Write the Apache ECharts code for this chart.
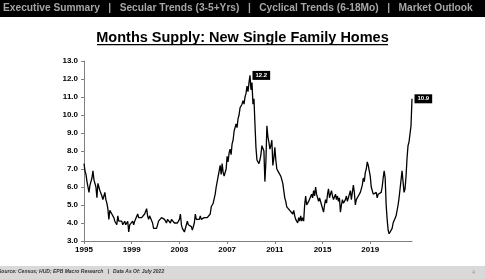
<!DOCTYPE html>
<html>
<head>
<meta charset="utf-8">
<script src="https://cdn.jsdelivr.net/npm/echarts@6/dist/echarts.min.js"></script>
<style>
html,body{margin:0;padding:0;background:#fff;}
#c{width:485px;height:279px;}
</style>
</head>
<body>
<div id="c"></div>
<script>
// Monthly months' supply, Jan 1995 .. Jul 2022
var startYear = 1995;
var values = [
  7.3, 6.9, 6.7, 6.3, 6.0, 5.7, 6.1, 6.3, 6.5, 6.9, 6.4, 6.3, // 1995
  6.0, 5.4, 6.2, 6.0, 5.8, 5.9, 5.5, 5.3, 5.5, 5.7, 5.3, 5.1, // 1996
  4.8, 4.2, 4.7, 4.6, 4.5, 4.4, 4.3, 4.1, 4.0, 3.9, 4.4, 4.1, // 1997
  4.0, 4.2, 4.1, 3.9, 4.0, 4.1, 3.9, 4.0, 4.1, 3.5, 3.9, 4.0, // 1998
  4.0, 4.1, 3.9, 4.1, 4.0, 4.0, 4.5, 4.3, 4.3, 4.4, 4.3, 4.3, // 1999
  4.3, 4.5, 4.4, 4.8, 4.4, 4.2, 4.4, 4.3, 4.3, 4.0, 3.7, 3.8, // 2000
  3.8, 3.7, 3.9, 4.1, 4.0, 4.2, 4.3, 4.4, 4.3, 4.2, 4.1, 4.0, // 2001
  4.2, 4.3, 4.1, 4.0, 4.2, 4.1, 4.2, 4.0, 4.1, 4.0, 4.0, 4.1, // 2002
  4.2, 4.5, 3.9, 3.7, 3.6, 3.5, 3.5, 3.6, 4.1, 3.9, 3.8, 3.9, // 2003
  3.8, 3.6, 3.7, 4.0, 4.5, 4.2, 4.1, 4.3, 4.2, 4.4, 4.2, 4.3, // 2004
  4.2, 4.3, 4.2, 4.4, 4.3, 4.3, 4.2, 4.5, 4.9, 4.8, 5.1, 5.2, // 2005
  5.6, 6.0, 6.3, 6.2, 6.4, 7.2, 6.7, 7.3, 6.8, 6.6, 6.5, 7.0, // 2006
  7.7, 7.4, 7.9, 8.1, 7.8, 8.4, 8.6, 9.1, 9.0, 9.5, 9.3, 9.8, // 2007
  10.0, 10.4, 10.3, 10.6, 10.8, 10.6, 11.0, 11.2, 11.6, 11.3, 11.8, 12.2, // 2008
  11.4, 11.8, 10.6, 10.9, 9.5, 8.2, 7.5, 7.6, 7.3, 7.5, 7.8, 8.3, // 2009
  8.4, 8.0, 6.3, 7.4, 9.4, 8.8, 8.5, 8.1, 8.3, 8.6, 7.2, 7.6, // 2010
  8.2, 7.5, 7.0, 6.9, 6.8, 6.8, 6.6, 6.7, 6.2, 5.8, 5.4, 5.2, // 2011
  4.9, 4.8, 4.8, 4.7, 4.6, 4.6, 4.5, 4.7, 4.4, 4.2, 4.1, 4.0, // 2012
  4.3, 4.1, 4.4, 4.1, 4.3, 4.1, 5.0, 5.5, 5.0, 5.1, 5.2, 5.1, // 2013
  5.3, 5.6, 5.4, 5.8, 5.5, 6.0, 5.6, 5.5, 5.2, 5.4, 5.3, 5.0, // 2014
  5.1, 4.6, 5.0, 5.3, 5.1, 5.6, 5.9, 5.4, 5.6, 5.8, 5.5, 5.3, // 2015
  5.4, 5.6, 5.3, 5.5, 5.2, 5.4, 4.6, 5.0, 5.3, 5.1, 5.2, 5.3, // 2016
  5.5, 5.2, 5.4, 5.6, 5.8, 5.3, 5.2, 6.1, 5.7, 5.0, 5.3, 5.4, // 2017
  5.5, 5.6, 5.7, 5.9, 6.1, 6.5, 6.3, 6.8, 7.0, 7.4, 7.2, 6.9, // 2018
  6.6, 6.0, 5.9, 5.6, 5.5, 5.6, 5.7, 5.4, 5.6, 5.5, 5.6, 5.7, // 2019
  6.0, 6.5, 6.9, 6.5, 5.0, 4.2, 3.6, 3.4, 3.3, 3.5, 3.7, 4.0, // 2020
  4.1, 3.9, 4.4, 4.3, 5.0, 5.4, 5.9, 6.4, 6.9, 6.3, 5.7, 5.9, // 2021
  6.6, 7.6, 8.3, 8.5, 8.6, 9.4, 10.9                          // 2022
];
var yTicks = [3, 13, 1];
var callouts = ['12.2', '10.9'];
var headerText = 'Executive Summary   |   Secular Trends (3-5+Yrs)   |   Cyclical Trends (6-18Mo)   |   Market Outlook';
var titleText = 'Months Supply: New Single Family Homes';
var footerText = 'Source: Census; HUD; EPB Macro Research   |   Data As Of: July 2022';
var pageNo = '4';

var categories = values.map(function (v, i) {
  var y = startYear + Math.floor(i / 12);
  var m = i % 12 + 1;
  return y + '-' + (m < 10 ? '0' + m : m);
});

var peakIdx = 0;
values.forEach(function (v, i) { if (v > values[peakIdx]) peakIdx = i; });
var lastIdx = values.length - 1;

var calloutLabel = function (txt) {
  return {
    show: true, position: 'right', distance: 2,
    formatter: txt,
    backgroundColor: '#000', color: '#fff',
    fontSize: 6, fontWeight: 'bold', fontFamily: 'Liberation Sans',
    padding: [2, 3, 1, 3]
  };
};

var chart = echarts.init(document.getElementById('c'), null, { renderer: 'canvas' });
chart.setOption({
  animation: false,
  backgroundColor: '#fff',
  grid: { left: 84, right: 73, top: 61, bottom: 38, containLabel: false },
  xAxis: {
    type: 'category',
    data: categories,
    boundaryGap: false,
    axisLine: { lineStyle: { color: '#808080', width: 1 } },
    axisTick: { show: true, interval: 47, length: 3, lineStyle: { color: '#808080' } },
    axisLabel: {
      interval: 47,
      formatter: function (v) { return v.slice(0, 4); },
      color: '#000', fontSize: 8, fontWeight: 'bold', fontFamily: 'Liberation Sans', margin: 5
    },
    splitLine: { show: false }
  },
  yAxis: {
    type: 'value',
    min: yTicks[0], max: yTicks[1], interval: yTicks[2],
    axisLine: { show: true, lineStyle: { color: '#808080', width: 1 } },
    axisTick: { show: true, length: 3, lineStyle: { color: '#808080' } },
    axisLabel: {
      formatter: function (v) { return v.toFixed(1); },
      color: '#000', fontSize: 8, fontWeight: 'bold', fontFamily: 'Liberation Sans', margin: 6
    },
    splitLine: { show: false }
  },
  series: [{
    type: 'line',
    data: values,
    showSymbol: false,
    symbol: 'none',
    lineStyle: { color: '#000', width: 1.3 },
    markPoint: {
      symbol: 'rect',
      symbolSize: [1, 1],
      itemStyle: { color: 'rgba(0,0,0,0)' },
      data: [
        { coord: [categories[peakIdx], values[peakIdx]], label: calloutLabel(callouts[0]) },
        { coord: [categories[lastIdx], values[lastIdx]], label: calloutLabel(callouts[1]) }
      ]
    }
  }],
  graphic: [
    { type: 'rect', shape: { x: 0, y: 0, width: 485, height: 17 }, style: { fill: '#000' }, silent: true },
    { type: 'text', left: 3, top: 3,
      style: { text: headerText, fill: '#a6a6a6', font: 'bold 10.2px "Liberation Sans"' } },
    { type: 'text', left: 'center', top: 30,
      style: { text: titleText, fill: '#000', font: 'bold 14.5px "Liberation Sans"' } },
    { type: 'rect', shape: { x: 97, y: 44, width: 291, height: 1.2 }, style: { fill: '#000' }, silent: true },
    { type: 'rect', shape: { x: 0, y: 266, width: 485, height: 13 }, style: { fill: '#d9d9d9' }, silent: true },
    { type: 'text', left: -2, top: 269,
      style: { text: footerText, fill: '#333', font: 'italic bold 5px "Liberation Sans"' } },
    { type: 'text', left: 472, top: 269,
      style: { text: pageNo, fill: '#999', font: '5.5px "Liberation Sans"' } }
  ]
});
</script>
</body>
</html>
